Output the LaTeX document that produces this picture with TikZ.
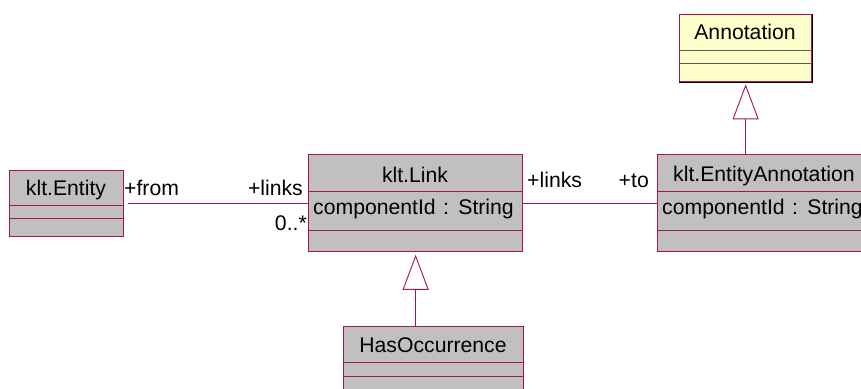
\documentclass[tikz,border=0pt]{standalone}
\usepackage{fontspec}
\setmainfont{Liberation Sans}
\usetikzlibrary{arrows.meta,calc}
\definecolor{umlred}{HTML}{A3184C}
\definecolor{umlgray}{HTML}{C0C0C0}
\definecolor{umlyellow}{HTML}{FFFFCC}
\definecolor{sepgray}{HTML}{5A5A50}
\begin{document}
\begin{tikzpicture}[x=1pt,y=-1pt,
  every node/.style={font=\fontsize{21.2}{24}\selectfont},
  classbox/.style={draw=umlred,line width=1.3pt,fill=umlgray,anchor=north west,inner sep=0pt},
  notebox/.style={draw=umlred,line width=1.3pt,fill=umlyellow,anchor=north west,inner sep=0pt},
  sep/.style={draw=umlred,line width=1pt},
  ysep/.style={draw=sepgray,line width=1pt},
  lbl/.style={inner sep=0pt},
  assoc/.style={draw=umlred,line width=0.9pt},
  gen/.style={draw=umlred,line width=0.9pt,-{Triangle[open,length=35pt,width=26pt,fill=white]}}
]
\useasboundingbox (0,0) rectangle (861,388);

% class boxes
\node[classbox,minimum width=114pt,minimum height=66pt] (entity) at (9,170) {};
\node[classbox,minimum width=214pt,minimum height=97pt] (link) at (308,154) {};
\node[notebox,minimum width=132pt,minimum height=67pt] (annot) at (679,14) {};
\node[classbox,minimum width=214pt,minimum height=97pt] (ea) at (657,154) {};
\node[classbox,minimum width=180pt,minimum height=75pt] (hasocc) at (343,326) {};

% compartments
\draw[sep] ($(entity.north west)+(0,35)$) -- ($(entity.north east)+(0,35)$);
\draw[sep] ($(entity.north west)+(0,48)$) -- ($(entity.north east)+(0,48)$);
\draw[sep] ($(link.north west)+(0,37)$) -- ($(link.north east)+(0,37)$);
\draw[sep] ($(link.north west)+(0,76)$) -- ($(link.north east)+(0,76)$);
\draw[sep] ($(ea.north west)+(0,37)$) -- ($(ea.north east)+(0,37)$);
\draw[sep] ($(ea.north west)+(0,76)$) -- ($(ea.north east)+(0,76)$);
\draw[sep] ($(hasocc.north west)+(0,36)$) -- ($(hasocc.north east)+(0,36)$);
\draw[sep] ($(hasocc.north west)+(0,50)$) -- ($(hasocc.north east)+(0,50)$);
\draw[ysep] ($(annot.north west)+(0,36)$) -- ($(annot.north east)+(0,36)$);
\draw[ysep] ($(annot.north west)+(0,49)$) -- ($(annot.north east)+(0,49)$);
\draw[black,line width=1.3pt] (annot.north east) -- (annot.south east) -- (annot.south west);

% titles and attributes
\node[lbl,anchor=base] (tEntity) at (66,195) {klt.Entity};
\node[lbl,anchor=base] (tLink) at (415,182) {klt.Link};
\node[lbl,anchor=base west] (aLink) at (313,214) {componentId\hspace{1.5pt} :\hspace{1.5pt} String};
\node[lbl,anchor=base] (tAnnot) at (745,39) {Annotation};
\node[lbl,anchor=base west] (tEA) at (673,181) {klt.EntityAnnotation};
\node[lbl,anchor=base west] (aEA) at (662,214) {componentId\hspace{1.5pt} :\hspace{1.5pt} String};
\node[lbl,anchor=base] (tHas) at (433,352) {HasOccurrence};

% associations
\draw[assoc,shorten <=4pt] (entity.east) -- (entity.east -| link.west);
\draw[assoc] (link.east) -- (ea.west);
\node[lbl,anchor=base west] (rFrom) at (124,195) {+from};
\node[lbl,anchor=base east] (rLinks1) at (303,195) {+links};
\node[lbl,anchor=base east] (mLinks) at (307,230) {0..*};
\node[lbl,anchor=base west] (rLinks2) at (527,187) {+links};
\node[lbl,anchor=base east] (rTo) at (649,187) {+to};

% generalisations
\coordinate (hasTop) at (link.south |- hasocc.north);
\coordinate (eaTop) at (annot.south |- ea.north);
\draw[gen,shorten >=2.5pt] (hasTop) -- (link.south);
\draw[gen,shorten >=2pt] (eaTop) -- (annot.south);
\end{tikzpicture}
\end{document}
